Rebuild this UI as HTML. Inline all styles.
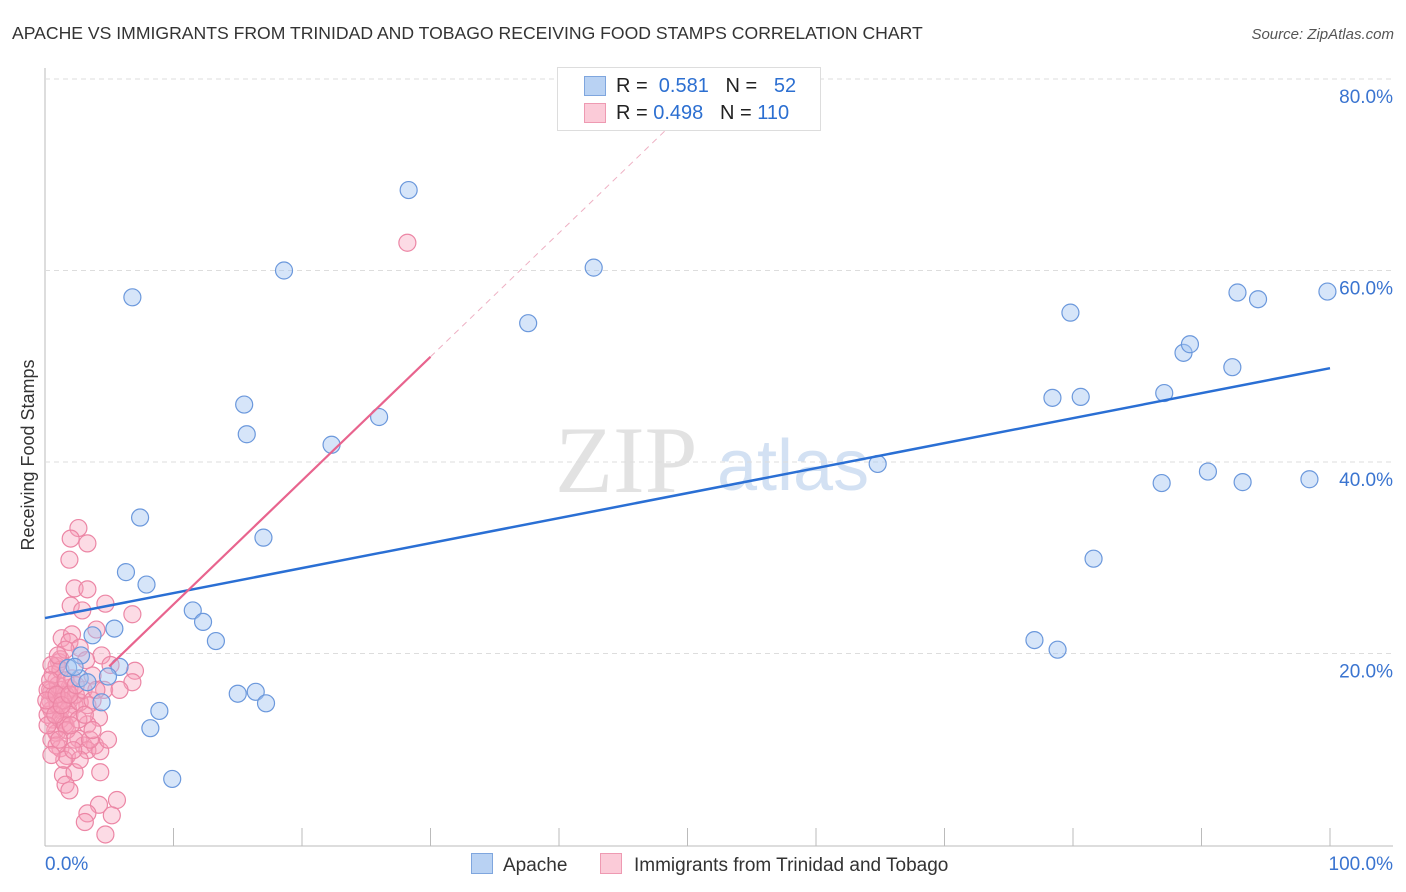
<!DOCTYPE html>
<html><head><meta charset="utf-8"><style>
body{margin:0;background:#fff;font-family:"Liberation Sans",sans-serif;}
#wrap{position:relative;width:1406px;height:892px;overflow:hidden}
</style></head><body>
<div id="wrap">
<svg id="svg" width="1406" height="892" xmlns="http://www.w3.org/2000/svg">
<text x="12" y="39" font-size="17.6" fill="#333">APACHE VS IMMIGRANTS FROM TRINIDAD AND TOBAGO RECEIVING FOOD STAMPS CORRELATION CHART</text>
<text x="1394" y="39" font-size="15" fill="#555" font-style="italic" text-anchor="end">Source: ZipAtlas.com</text>
<text x="34" y="455" font-size="18" fill="#333" text-anchor="middle" transform="rotate(-90 34 455)">Receiving Food Stamps</text>
<text x="555" y="492" font-size="95" fill="#e2e2e2" font-family="Liberation Serif,serif">ZIP</text>
<text x="717" y="490" font-size="72" fill="#d3e1f3">atlas</text>
<g id="grid"></g><g id="pts"></g><g id="lines"></g>
</svg>
<div style="position:absolute;left:557px;top:67px;width:262px;height:62px;border:1px solid #ddd;background:#fff;font-size:20px;color:#222">
<div style="position:absolute;left:26px;top:8px;width:20px;height:18px;background:#b9d2f3;border:1px solid #7fa6de"></div>
<div style="position:absolute;left:58px;top:7px">R = <span style="color:#2c6fd1">&nbsp;0.581</span>&nbsp;&nbsp;&nbsp;N = <span style="color:#2c6fd1">&nbsp;&nbsp;52</span></div>
<div style="position:absolute;left:26px;top:35px;width:20px;height:18px;background:#fbcbd8;border:1px solid #ee9ab2"></div>
<div style="position:absolute;left:58px;top:34px">R = <span style="color:#2c6fd1">0.498</span>&nbsp;&nbsp;&nbsp;N = <span style="color:#2c6fd1">110</span></div>
</div>
<div style="position:absolute;left:471px;top:853px;font-size:19px;color:#333"><span style="display:inline-block;width:20px;height:19px;background:#b9d2f3;border:1px solid #7fa6de;vertical-align:-3px;margin-right:10px"></span>Apache</div>
<div style="position:absolute;left:600px;top:853px;font-size:19px;color:#333"><span style="display:inline-block;width:20px;height:19px;background:#fbcbd8;border:1px solid #ee9ab2;vertical-align:-3px;margin-right:12px"></span>Immigrants from Trinidad and Tobago</div>
</div>
<script>
const blueX=[28.3,18.6,42.7,6.8,37.6,15.5,15.7,26.0,22.3,64.8,79.8,88.6,89.1,92.4,78.4,80.6,87.1,92.8,94.4,99.8,90.5,86.9,93.2,98.4,81.6,77.0,78.8,7.4,17.0,6.3,7.9,11.5,12.3,13.3,5.4,3.7,2.8,2.7,3.3,5.8,4.9,4.4,15.0,16.4,17.2,8.9,8.2,9.9,1.8,2.3];
const blueY=[68.4,60.0,60.3,57.2,54.5,46.0,42.9,44.7,41.8,39.8,55.6,51.4,52.3,49.9,46.7,46.8,47.2,57.7,57.0,57.8,39.0,37.8,37.9,38.2,29.9,21.4,20.4,34.2,32.1,28.5,27.2,24.5,23.3,21.3,22.6,21.9,19.8,17.4,17.0,18.6,17.6,14.9,15.8,16.0,14.8,14.0,12.2,6.9,18.5,18.6];
const pinkX=[2.6,2.0,3.3,1.9,2.3,3.3,2.0,4.7,6.8,1.3,2.1,1.9,2.7,1.1,0.9,1.2,7.0,0.9,3.7,6.8,4.6,1.9,0.5,0.9,1.9,3.3,1.2,2.3,4.2,0.6,1.5,3.3,0.9,2.6,3.0,3.9,1.2,3.3,4.3,1.7,1.4,2.3,4.3,1.6,1.9,4.2,5.6,3.3,5.2,3.1,4.7,0.4,0.5,0.8,0.2,0.4,0.7,1.0,1.2,1.3,1.6,1.8,1.9,2.1,2.4,2.7,3.0,0.5,0.9,1.6,1.4,1.0,0.6,1.2,0.3,0.2,0.5,1.7,2.3,3.7,4.0,4.9,2.7,3.5,28.2,5.8,1.6,1.0,2.9,4.0,4.4,5.1,3.2,1.5,2.2,2.6,0.2,0.1,0.4,0.8,0.9,1.3,1.6,1.9,2.0,1.1,0.5,2.4,3.1,3.7];
const pinkY=[33.1,32.0,31.5,29.8,26.8,26.7,25.0,25.2,24.1,21.6,22.0,21.2,20.6,19.1,18.7,19.4,18.2,17.2,17.7,17.0,16.2,16.4,16.0,15.1,15.1,14.6,14.1,14.6,13.3,13.1,12.7,12.6,11.7,11.1,10.4,10.4,10.1,9.9,9.8,9.3,7.3,7.6,7.6,6.3,5.7,4.2,4.7,3.3,3.1,2.4,1.1,16.2,14.1,12.0,13.6,15.1,15.7,14.6,13.1,16.2,15.7,14.1,13.6,17.4,15.7,14.9,16.2,11.0,10.4,12.5,15.1,16.7,17.8,18.3,14.6,12.5,18.8,12.0,11.0,15.1,16.2,11.0,8.9,11.0,62.9,16.2,20.4,19.8,24.5,22.5,19.8,18.8,19.3,8.9,9.9,13.1,16.2,15.1,17.2,13.6,15.7,14.6,17.2,15.7,12.5,11.0,9.4,16.7,13.6,12.0];
const blueLine=[23.7,49.8];
const pinkLine=[12.2,1.293];
const yTicks=[20,40,60,80];
const xTickVals=[0,10,20,30,40,50,60,70,80,90,100];
const NS="http://www.w3.org/2000/svg";
const X=v=>45+v*12.85, Y=v=>845-v*9.575;
function mk(t,a,p){const e=document.createElementNS(NS,t);for(const k in a)e.setAttribute(k,a[k]);p.appendChild(e);return e;}
const g=document.getElementById('grid');
const ax=mk('line',{x1:45,y1:68,x2:45,y2:846,stroke:'#bbb'},g);


const bx=mk('line',{x1:45,y1:846,x2:1393,y2:846,stroke:'#bbb'},g);


yTicks.forEach(t=>{
 const l=mk('line',{x1:45,y1:Y(t),x2:1393,y2:Y(t),stroke:'#ddd','stroke-dasharray':'5,4'},g);
 
 
 const tx=mk('text',{x:1393,y:Y(t)+24,'font-size':19,fill:'#3a74d0','text-anchor':'end'},g);tx.textContent=t.toFixed(1)+'%';
 
 
});
xTickVals.forEach(t=>{
 const l=mk('line',{x1:X(t),y1:828,x2:X(t),y2:846,stroke:'#bbb'},g);
 
 
});
const x0=mk('text',{x:45,y:870,'font-size':19,fill:'#3a74d0'},g);x0.textContent='0.0%';


const x1=mk('text',{x:1393,y:870,'font-size':19,fill:'#3a74d0','text-anchor':'end'},g);x1.textContent='100.0%';


const P=document.getElementById('pts');
pinkX.forEach((x,i)=>{
 const c=mk('circle',{cx:X(x),cy:Y(pinkY[i]),r:8.5,fill:'rgba(246,160,186,0.38)',stroke:'#ec86a5','stroke-width':1.2},P);
 
 
});
blueX.forEach((x,i)=>{
 const c=mk('circle',{cx:X(x),cy:Y(blueY[i]),r:8.5,fill:'rgba(165,198,242,0.45)',stroke:'#6b98dc','stroke-width':1.2},P);
 
 
});
const L=document.getElementById('lines');
const bl=mk('line',{x1:X(0),y1:Y(blueLine[0]),x2:X(100),y2:Y(blueLine[1]),stroke:'#2a6fd4','stroke-width':2.5},L);


const pf=x=>pinkLine[0]+pinkLine[1]*x;
const pl=mk('line',{x1:X(5),y1:Y(pf(5)),x2:X(30),y2:Y(pf(30)),stroke:'#e8648e','stroke-width':2.2},L);


const pd=mk('line',{x1:X(30),y1:Y(pf(30)),x2:X(50),y2:Y(pf(50)),stroke:'#eeb0c3','stroke-width':1,'stroke-dasharray':'6,5'},L);


</script>
</body></html>
